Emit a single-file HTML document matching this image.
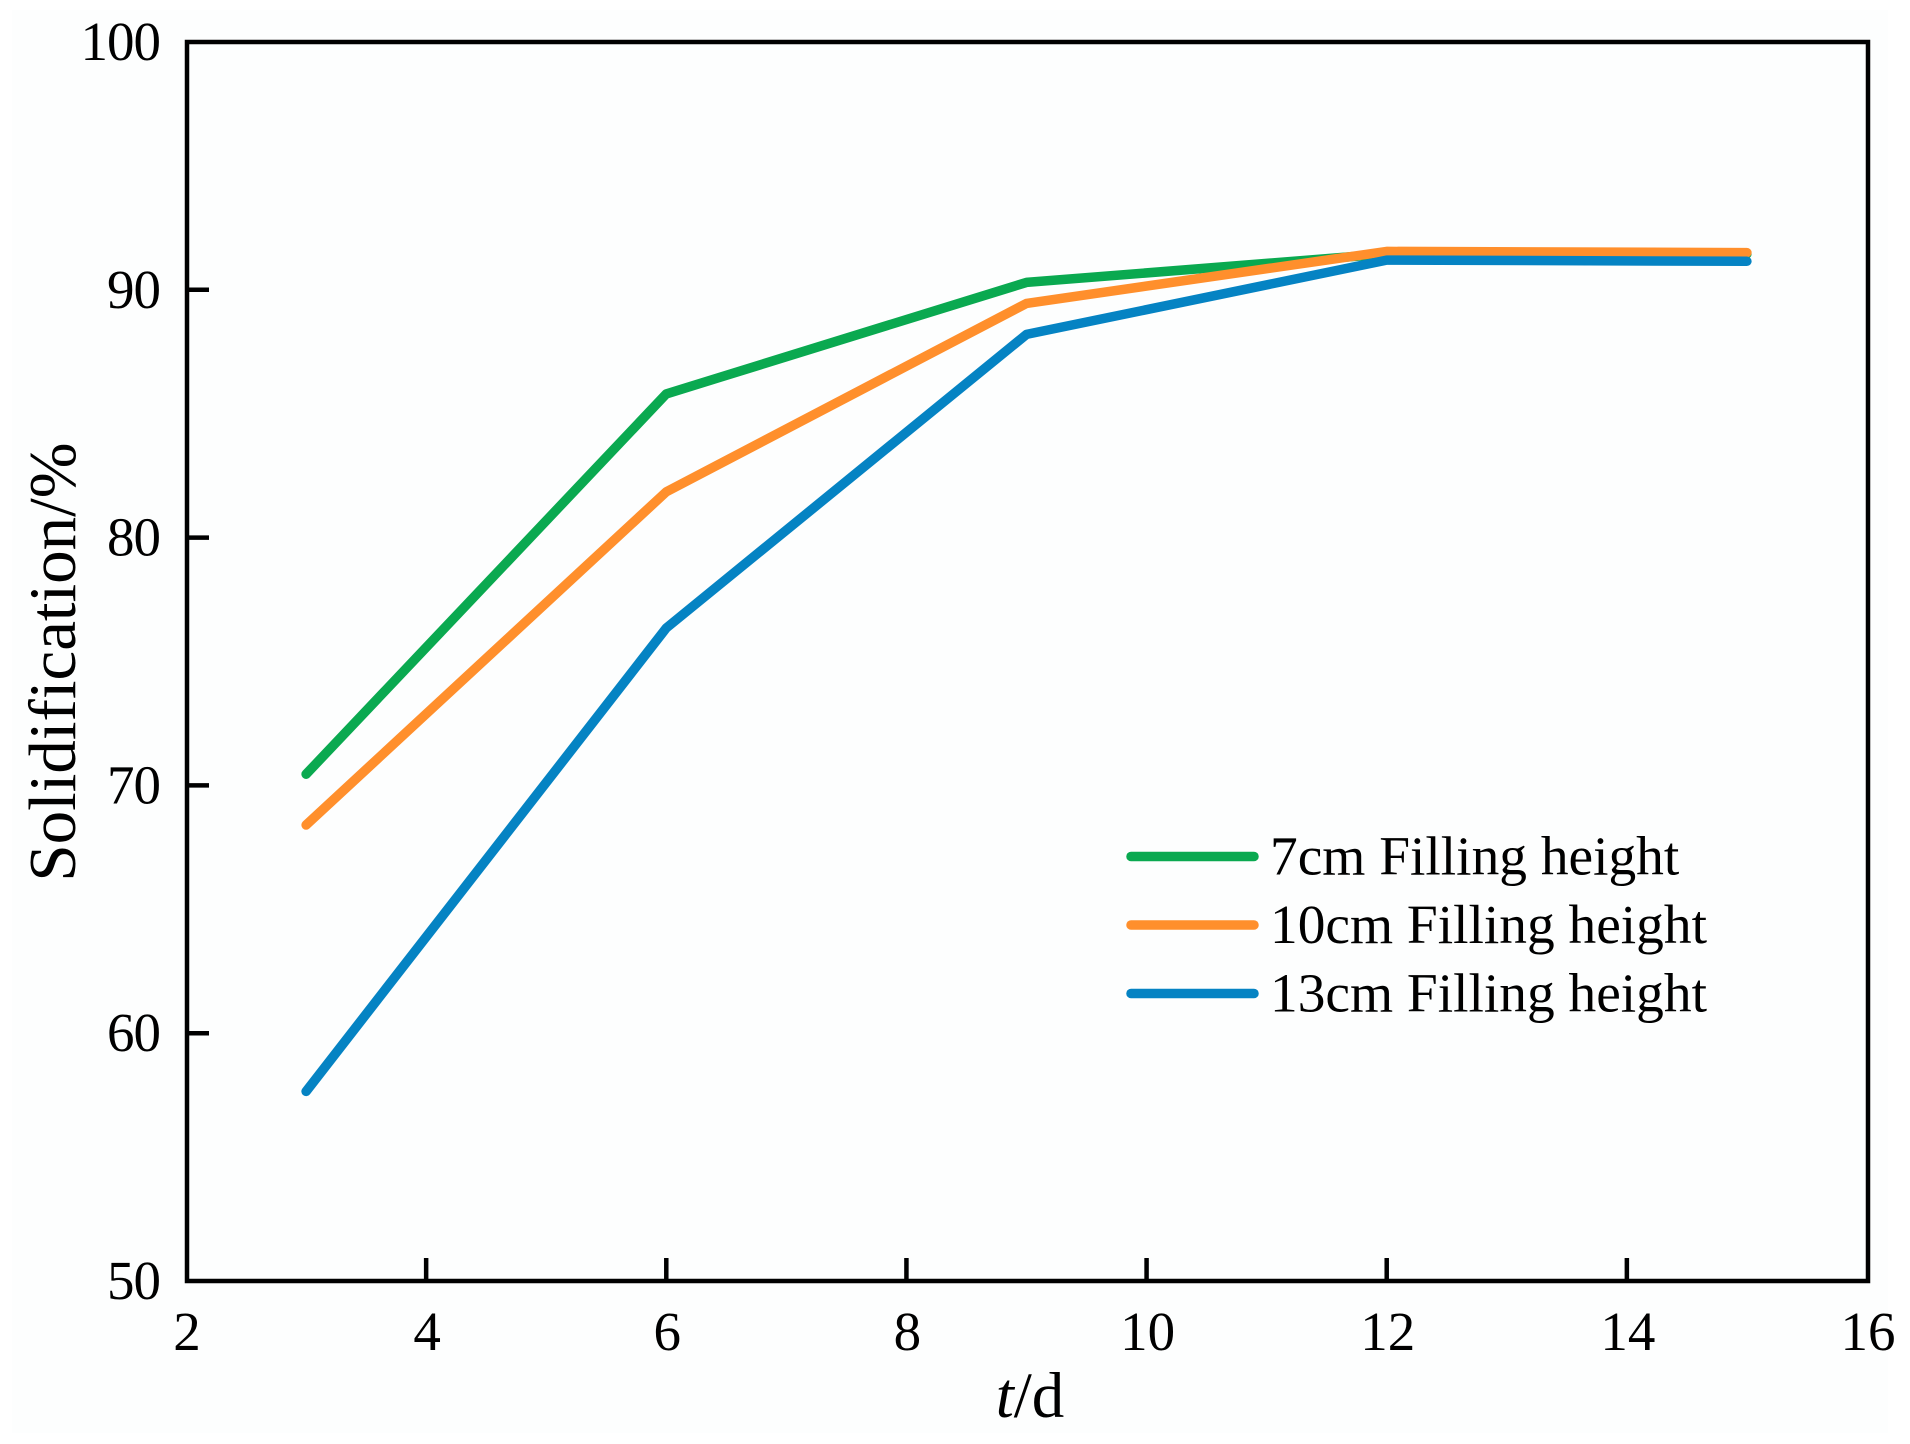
<!DOCTYPE html>
<html lang="en">
<head>
<meta charset="utf-8">
<title>Solidification over time</title>
<style>
html,body{margin:0;padding:0;background:#fff;width:1910px;height:1444px;overflow:hidden}
svg{display:block}
text{font-family:"Liberation Serif",serif;fill:#000}
</style>
</head>
<body>
<svg id="chart" xmlns="http://www.w3.org/2000/svg" width="1910" height="1444" viewBox="0 0 1910 1444">
  <rect x="12" y="10" width="1876" height="1423" fill="#fdfefe"/>
  <g id="series"></g>
  <g id="ticks"></g>
  <rect x="187" y="42" width="1681" height="1239" fill="none" stroke="#000" stroke-width="4.5"/>
  <text transform="translate(75,662) rotate(-90)" text-anchor="middle" font-size="67">Solidification/%</text>
  <text x="1030" y="1417" text-anchor="middle" font-size="65"><tspan font-style="italic">t</tspan>/d</text>
  <g id="legend"></g>
</svg>
<script>
const days = [3, 6, 9, 12, 15];
const height7 = [70.45, 85.8, 90.3, 91.45, 91.45];
const height10 = [68.4, 81.85, 89.45, 91.55, 91.5];
const height13 = [57.65, 76.35, 88.2, 91.2, 91.15];
const xTickValues = [2, 4, 6, 8, 10, 12, 14, 16];
const yTickValues = [50, 60, 70, 80, 90, 100];
const legendLabels = ['7cm Filling height', '10cm Filling height', '13cm Filling height'];
const seriesColors = ['#0aa950', '#ff8f2c', '#0583c3'];

const NS = 'http://www.w3.org/2000/svg';
function xScale(v) { return 186 + (v - 2) * (1867 - 186) / 14; }
function yScale(v) { return 1281 - (v - 50) * (1281 - 42) / 50; }
function make(tag, attrs, parent) {
  const el = document.createElementNS(NS, tag);
  Object.keys(attrs).forEach(function (k) { el.setAttribute(k, attrs[k]); });
  parent.appendChild(el);
  return el;
}

const seriesGroup = document.getElementById('series');
const allSeries = [height7, height10, height13];
const seriesNames = ['series-7cm-line', 'series-10cm-line', 'series-13cm-line'];
allSeries.forEach(function (vals, i) {
  const pts = vals.map(function (v, j) { return xScale(days[j]).toFixed(1) + ',' + yScale(v).toFixed(1); }).join(' ');
  const line = make('polyline', { points: pts, fill: 'none', stroke: seriesColors[i], 'stroke-width': 9.5, 'stroke-linecap': 'round', 'stroke-linejoin': 'round' }, seriesGroup);
  
  
});

const tickGroup = document.getElementById('ticks');
xTickValues.forEach(function (v) {
  const px = xScale(v);
  if (v !== 2 && v !== 16) {
    const t = make('line', { x1: px, x2: px, y1: 1258, y2: 1281, stroke: '#000', 'stroke-width': 4.5 }, tickGroup);
    
    
  }
  const lab = make('text', { x: px + 1, y: 1350, 'text-anchor': 'middle', 'font-size': 55 }, tickGroup);
  lab.textContent = String(v);
  
  
});
yTickValues.forEach(function (v) {
  const py = yScale(v);
  if (v !== 50 && v !== 100) {
    const t = make('line', { x1: 187, x2: 209, y1: py, y2: py, stroke: '#000', 'stroke-width': 4.5 }, tickGroup);
    
    
  }
  const lab = make('text', { x: 160, y: py + 18, 'text-anchor': 'end', 'font-size': 55, 'letter-spacing': -1 }, tickGroup);
  lab.textContent = String(v);
  
  
});

const legendGroup = document.getElementById('legend');
const legendEntryNames = ['legend-entry-7cm', 'legend-entry-10cm', 'legend-entry-13cm'];
legendLabels.forEach(function (label, i) {
  const ly = 856.5 + i * 68.5;
  const entry = make('g', {}, legendGroup);
  
  
  const swatch = make('line', { x1: 1131, x2: 1259 - 5, y1: ly, y2: ly, stroke: seriesColors[i], 'stroke-width': 9.5, 'stroke-linecap': 'round' }, entry);
  
  
  const txt = make('text', { x: 1270, y: ly + 18, 'font-size': 55.4 }, entry);
  txt.textContent = label;
  
  
});
</script>
</body>
</html>
